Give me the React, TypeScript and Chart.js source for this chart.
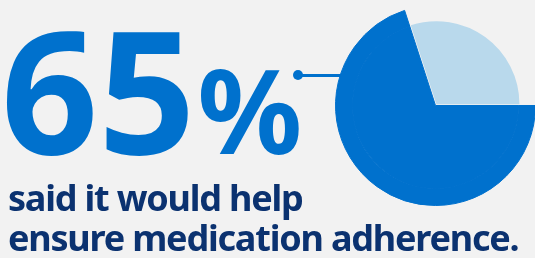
import { useEffect, useRef } from "react";
import { Chart, registerables } from "chart.js";

Chart.register(...registerables);

// Data
const headlineValue = "65";
const headlineUnit = "%";
const captionLines = ["said it would help", "ensure medication adherence."];
const categories = ["Would help ensure adherence", "Other"];
const sliceShares = [70, 30];

const BG = "#f2f2f2";
const DARK = "#0071cd";
const LIGHT = "#b9d9ec";
const NAVY = "#0b3270";
const FONT = "'Noto Sans', sans-serif";

export default function App() {
  const canvasRef = useRef<HTMLCanvasElement | null>(null);

  useEffect(() => {
    document.body.style.margin = "0";
    document.body.style.background = BG;
    const canvas = canvasRef.current;
    if (!canvas) return;
    const chart = new Chart(canvas, {
      type: "pie",
      data: {
        labels: categories,
        datasets: [
          {
            data: sliceShares,
            backgroundColor: [DARK, "rgba(0,0,0,0)"],
            borderColor: [DARK, "rgba(0,0,0,0)"],
            borderWidth: [1, 0],
            weight: 17,
          },
          {
            data: sliceShares,
            backgroundColor: [DARK, LIGHT],
            borderColor: [DARK, LIGHT],
            borderWidth: [1, 0],
            offset: [0, 6],
            weight: 83,
          },
        ],
      },
      options: {
        responsive: false,
        animation: false,
        events: [],
        rotation: 90,
        radius: 100,
        layout: { padding: 0 },
        plugins: {
          legend: { display: false },
          tooltip: { enabled: false },
        },
      },
    });
    return () => chart.destroy();
  }, []);

  return (
    <div
      style={{
        position: "fixed",
        left: 0,
        top: 0,
        width: 535,
        height: 258,
        overflow: "hidden",
        background: BG,
        fontFamily: FONT,
      }}
    >
      <div
        style={{
          position: "absolute",
          left: 1,
          top: 3,
          fontSize: 170,
          lineHeight: 1,
          fontWeight: 700,
          color: DARK,
          whiteSpace: "nowrap",
        }}
      >
        {headlineValue}
        <span style={{ fontSize: 116, marginLeft: 2 }}>{headlineUnit}</span>
      </div>
      <div
        style={{
          position: "absolute",
          left: 298 - 5,
          top: 75 - 5,
          width: 10,
          height: 10,
          borderRadius: "50%",
          background: DARK,
        }}
      />
      <div
        style={{
          position: "absolute",
          left: 298,
          top: 74,
          width: 44,
          height: 3,
          background: DARK,
        }}
      />
      <div
        style={{
          position: "absolute",
          left: 335,
          top: 5,
          width: 201,
          height: 201,
        }}
      >
        <canvas ref={canvasRef} width={201} height={201} />
      </div>
      <div
        style={{
          position: "absolute",
          left: 8,
          top: 178,
          fontSize: 36,
          lineHeight: "40px",
          letterSpacing: "-1.2px",
          fontWeight: 700,
          color: NAVY,
          whiteSpace: "nowrap",
        }}
      >
        {captionLines.map((l) => (
          <div key={l}>{l}</div>
        ))}
      </div>
    </div>
  );
}
